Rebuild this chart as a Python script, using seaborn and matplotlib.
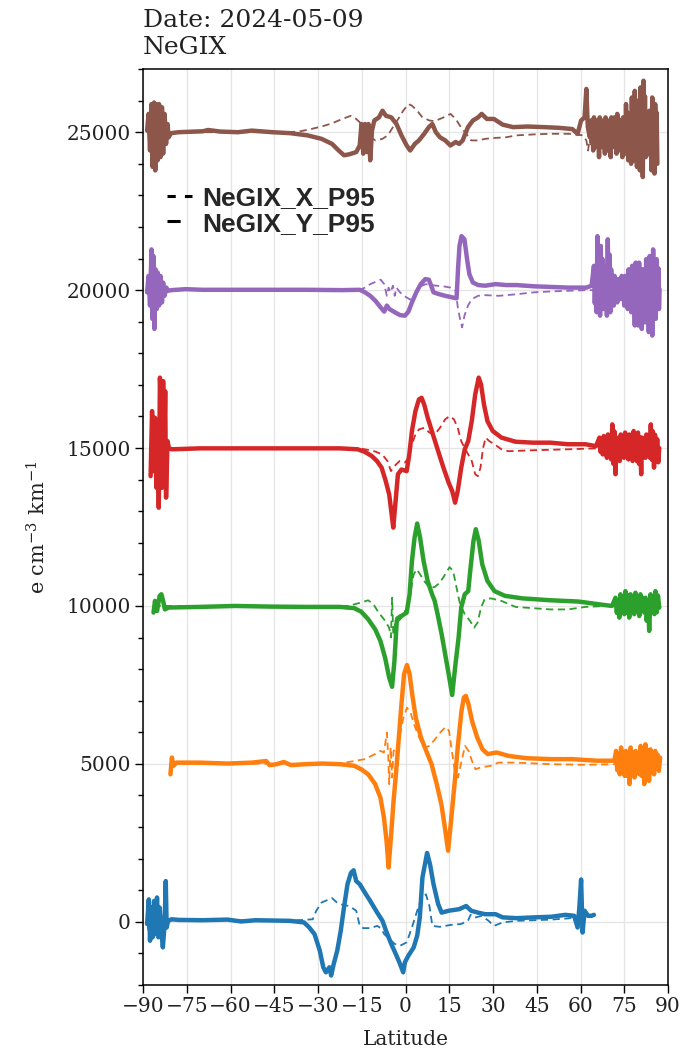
import matplotlib
matplotlib.use("Agg")
import matplotlib.pyplot as plt
from matplotlib.lines import Line2D
import numpy as np
import seaborn as sns

# ---------------- data (latitude in deg, anomaly around each band's offset) ----------------
band_names = ["blue", "orange", "green", "red", "purple", "brown"]
band_colors = ["#1f77b4", "#ff7f0e", "#2ca02c", "#d62728", "#9467bd", "#8c564b"]
band_offsets = [0, 5000, 10000, 15000, 20000, 25000]

# --- blue (offset 0)
blue_y_lat = [-88.6, -88.0, -87.6, -87.1, -86.7, -86.2, -85.7, -85.2, -84.7, -84.3, -83.8, -83.2, -82.6, -82.2, -81.9, -81.4, -80.2,
              -77.8, -69.5, -61.1, -56.3, -51.5, -45.6, -39.6, -34.8, -33.0, -31.2, -29.4, -28.2, -27.3, -26.1, -25.5, -24.6, -23.4,
              -22.2, -21.1, -19.9, -18.7, -17.8, -16.9, -15.7, -13.9, -12.1, -9.7, -7.9, -6.7, -4.9, -3.1, -1.9, -0.8, -0.2, 1.0, 2.8,
              4.0, 4.9, 5.8, 7.4, 8.4, 9.6, 11.2, 12.4, 14.8, 18.4, 20.8, 22.5, 24.9, 27.3, 30.9, 33.3, 38.1, 44.1, 50.0, 54.8, 57.8,
              59.0, 59.6, 60.2, 60.7, 61.4, 62.6, 63.8, 64.6]
blue_y_val = [-70, 710, -600, 450, -490, 660, -390, 770, -490, 450, -180, -810, -70, 1290, -180, 30, 80,
              60, 50, 70, 10, 50, 40, 30, -20, -180, -390, -910, -1440, -1600, -1440, -1700, -1330, -910,
              -280, 450, 1190, 1550, 1630, 1290, 1190, 920, 660, 290, 30, -280, -700, -1070, -1330, -1600, -1280, -1070, -810,
              -440, 140, 1400, 2180, 1820, 1190, 560, 290, 350, 400, 500, 350, 290, 240, 240, 140, 115, 140, 160, 220, 190,
              -180, 450, 1340, -340, 350, 190, 190, 220]
blue_x_lat = [-88.6, -88.2, -87.6, -87.0, -86.0, -85.0, -84.0, -82.0, -80.0, -60.0, -40.0, -31.8, -30.6, -28.8, -27.0, -25.2, -23.5,
              -21.7, -19.3, -16.9, -15.7, -14.5, -12.1, -9.7, -8.5, -7.3, -5.5, -3.7, -1.9, 0.4, 2.2, 4.0, 5.8, 7.0, 8.2, 9.2, 11.8,
              15.4, 19.0, 21.4, 22.3, 23.7, 26.1, 28.5, 30.3, 33.3, 38.1, 44.1, 50.0, 56.0, 59.6, 62.0, 64.4]
blue_x_val = [700, -300, 400, -500, 300, -200, 100, 0, 50, 50, 30, 80, 350, 610, 680, 750, 610,
              540, 500, 350, -130, -200, -200, -130, -200, -390, -550, -700, -760, -650, -180, 350, 820, 870, 500, -130, -160,
              -100, -70, 30, 220, 130, 190, 30, -130, -20, 30, 50, 70, 110, 190, 140, 190]

# --- orange (offset 5000)
orange_y_lat_main = [-80.6, -80.1, -79.6, -78.5, -70.7, -61.0, -52.6, -47.8, -46.6, -44.2, -41.7, -39.3, -34.5, -28.5, -22.4, -17.6,
                     -15.2, -12.8, -10.4, -8.6, -7.4, -6.5, -5.8, -5.0, -4.1, -3.1, -2.2, -1.3, -0.5, 0.5, 1.4, 2.3, 3.5, 5.3, 7.1,
                     8.9, 10.7, 12.3, 13.5, 14.6, 15.5, 16.8, 18.0, 19.2, 20.0, 20.7, 21.6, 22.8, 24.6, 26.4, 28.2, 31.2, 35.5,
                     41.5, 49.9, 57.2, 65.6, 71.6]
orange_y_val_main = [-330, 200, -60, 40, 40, 10, 40, 90, -40, -10, 60, -40, -10, 10, -10, -60,
                     -170, -330, -640, -1070, -1700, -2440, -3280, -2330, -1170, -120, 940, 1990, 2840, 3130, 2840, 2200, 1470, 830, 410,
                     0, -640, -1280, -2020, -2750, -1910, -640, 620, 1680, 2100, 2150, 1890, 1360, 830, 460, 310, 360, 250,
                     180, 150, 150, 100, 100]
orange_noise_lat = [72.2, 72.6, 73.05, 73.45, 73.9, 74.3, 74.7, 75.15, 75.55, 75.95,
                    76.4, 76.8, 77.2, 77.65, 78.05, 78.5, 78.9, 79.3, 79.75, 80.15,
                    80.6, 81.0, 81.4, 81.85, 82.25, 82.7, 83.1, 83.5, 83.95, 84.35,
                    84.75, 85.2, 85.6, 86.05, 86.45, 86.85, 87.3]
orange_noise_val = [410, -200, 290, -330, 520, -230, 360, -380, 410, -380,
                    290, -640, 520, -260, 360, -430, 410, -200, 290, -330,
                    570, -380, 400, -640, 620, -320, 430, -540, 460, -200,
                    320, -330, 410, -130, 290, -220, 200]
orange_y_lat = orange_y_lat_main + orange_noise_lat
orange_y_val = orange_y_val_main + orange_noise_val
orange_x_lat = [-80.6, -79.1, -60.0, -40.0, -22.4, -17.6, -14.0, -10.4, -8.6, -7.4, -6.4, -5.9, -5.6, -5.1, -4.6, -4.1, -3.1,
                -1.9, -0.7, 0.5, 1.7, 2.9, 4.7, 6.5, 8.3, 10.1, 11.9, 13.7, 14.9, 15.9, 16.8, 18.0, 19.2, 20.4, 21.6, 22.8,
                24.0, 25.8, 29.4, 31.8, 37.9, 49.9, 62.0, 71.6, 80.1, 86.7]
orange_x_val = [0, 0, 20, 0, 10, 90, 150, 310, 410, 360, 990, 200, -640, 520, -430, 410, 460,
                940, 1470, 1780, 1630, 1260, 830, 520, 570, 780, 990, 1170, 1050, 410, -170, -430, 90, 570, 410, 90,
                -170, -110, -60, 40, 40, -10, -30, -10, -10, -10]

# --- green (offset 10000)
green_y_lat_main = [-86.4, -85.9, -85.2, -84.3, -83.7, -83.1, -82.5, -81.3, -70.5, -58.5, -46.5, -34.5, -22.4, -17.6, -15.2, -12.8,
                    -10.4, -8.6, -7.0, -5.6, -4.6, -3.8, -3.0, -1.4, 0.4, 1.4, 2.2, 3.1, 4.0, 5.0, 6.2, 7.6, 9.1, 10.0, 11.0, 12.4,
                    13.6, 14.8, 16.0, 17.0, 18.2, 19.1, 20.3, 21.5, 22.3, 23.3, 24.1, 25.1, 26.3, 28.1, 30.5, 34.1, 40.1, 49.7,
                    59.3, 66.5, 70.8]
green_y_val_main = [-210, 160, -160, 320, 370, 160, -110, -50, -30, 0, -20, -30, -30, -70, -180, -420,
                    -740, -1110, -1640, -2270, -2560, -1740, -470, -320, -210, 370, 1420, 2160, 2610, 2160, 1420, 790, 370, 160, -260, -900,
                    -1530, -2160, -2820, -1950, -1000, -50, 370, 470, 1210, 2060, 2430, 2060, 1320, 790, 470, 320, 240, 180,
                    140, 50, 0]
green_noise_lat = [72.0, 72.45, 72.85, 73.3, 73.7, 74.15, 74.55, 75.0, 75.4, 75.85,
                   76.3, 76.7, 77.15, 77.55, 78.0, 78.4, 78.85, 79.3, 79.7, 80.15,
                   80.55, 81.0, 81.4, 81.85, 82.3, 82.7, 83.15, 83.55, 84.0, 84.4,
                   84.85, 85.3, 85.7, 86.15, 86.55, 87.0]
green_noise_val = [260, -220, 180, -370, 370, -160, 260, -260, 470, -220,
                   330, -370, 370, -160, 260, -260, 420, -190, 290, -320,
                   370, -130, 260, -210, 260, -470, 180, -790, 370, -160,
                   260, -260, 470, -200, 330, -50]
green_y_lat = green_y_lat_main + green_noise_lat
green_y_val = green_y_val_main + green_noise_val
green_x_lat = [-86.4, -80.0, -60.0, -40.0, -20.0, -17.6, -15.2, -12.8, -11.0, -9.2, -7.4, -5.6, -5.0, -4.6, -4.2, -3.2, -1.4,
               0.4, 1.6, 2.8, 3.8, 5.0, 6.4, 8.2, 10.0, 11.8, 13.6, 15.1, 16.3, 17.5, 18.7, 20.3, 22.1, 23.5, 24.7, 25.9,
               27.1, 29.3, 32.9, 37.7, 43.7, 49.7, 55.7, 61.7, 69.0, 76.2, 85.8]
green_x_val = [0, 0, 0, 0, 0, 50, 110, 180, 50, -210, -420, -690, -1000, 260, -900, -370, -260,
               -110, 370, 1000, 1160, 1000, 790, 580, 600, 740, 1000, 1230, 1110, 580, 50, -260, -470, -690, -530, -50,
               210, 240, 160, -30, -70, -110, -110, -30, 0, 0, 0]

# --- red (offset 15000)
red_y_lat_main = [-87.4, -86.9, -86.4, -85.9, -85.4, -84.9, -84.6, -84.2, -83.9, -83.5, -83.1, -82.8, -82.4, -82.1, -81.6, -81.1,
                  -80.1, -70.5, -58.5, -46.5, -34.5, -22.4, -16.4, -14.0, -11.6, -9.8, -8.2, -6.8, -5.6, -4.9, -4.2, -3.4, -2.6,
                  -1.4, 0.4, 1.3, 2.2, 3.4, 4.6, 5.5, 6.4, 7.6, 9.4, 11.2, 13.0, 14.8, 16.0, 17.0, 17.9, 19.1, 20.3, 21.5, 22.7,
                  23.9, 25.1, 25.9, 26.9, 28.1, 29.9, 32.9, 37.7, 43.7, 49.7, 55.7, 61.7, 65.3]
red_y_val_main = [-890, 1170, -730, 960, -1260, 640, -1890, 2230, 1490, -1260, 2120, -410, 1800, -1570, 220, -10,
                  -40, -10, -10, -10, -10, -10, -40, -120, -250, -410, -620, -1040, -1470, -1990, -2520, -1680, -830,
                  -680, -730, -200, 540, 1170, 1540, 1590, 1380, 960, 430, -100, -620, -1100, -1360, -1730, -1360, -620, -40, 220, 850,
                  1700, 2230, 2010, 1380, 850, 540, 330, 200, 170, 170, 120, 120, 60]
red_noise_lat = [66.5, 66.85, 67.2, 67.6, 67.95, 68.3, 68.7, 69.05, 69.4, 69.8,
                 70.15, 70.5, 70.9, 71.25, 71.6, 72.0, 72.35, 72.7, 73.1, 73.45,
                 73.8, 74.2, 74.55, 74.9, 75.3, 75.65, 76.0, 76.4, 76.75, 77.1,
                 77.5, 77.85, 78.2, 78.6, 78.95, 79.3, 79.7, 80.05, 80.4, 80.8,
                 81.15, 81.5, 81.9, 82.25, 82.6, 83.0, 83.35, 83.7, 84.1, 84.45,
                 84.8, 85.2, 85.55, 85.9, 86.3, 86.65, 87.0]
red_noise_val = [330, -120, 230, -200, 380, -190, 270, -310, 430, -220,
                 300, -360, 750, -500, 530, -830, 330, -250, 230, -410,
                 430, -190, 300, -310, 490, -220, 340, -360, 430, -250,
                 300, -410, 540, -250, 380, -410, 490, -500, 340, -830,
                 330, -190, 230, -310, 430, -180, 300, -300, 750, -370,
                 530, -620, 420, -310, 280, -450, 0]
red_y_lat = red_y_lat_main + red_noise_lat
red_y_val = red_y_val_main + red_noise_val
red_x_lat = [-87.4, -80.0, -60.0, -40.0, -20.0, -16.4, -12.8, -10.4, -8.0, -6.2, -5.0, -3.8, -2.0, -0.2, 1.0, 2.2, 3.4, 4.6,
             6.4, 8.2, 10.0, 11.8, 13.6, 15.1, 16.6, 17.9, 19.1, 20.3, 21.5, 22.7, 23.9, 24.8, 25.7, 26.6, 27.5, 28.7, 30.5,
             32.9, 35.3, 43.7, 55.7, 65.3, 73.8, 85.8]
red_x_val = [0, 0, 0, 0, 0, 0, -60, -110, -200, -410, -730, -570, -410, -460, -310, 120, 430, 590,
             640, 490, 430, 640, 910, 1010, 910, 640, 220, -10, -200, -410, -830, -890, -620, 10, 330, 220, 120,
             -40, -100, -70, -40, -10, -10, -10]

# --- purple (offset 20000)
purple_y_lat_main = [-88.6, -88.1, -87.6, -87.1, -86.8, -86.4, -86.1, -85.7, -85.3, -85.0, -84.5, -84.0, -83.5, -83.1, -82.6, -82.0,
                     -81.4, -80.2, -75.4, -69.5, -57.5, -45.6, -33.6, -21.7, -15.7, -13.9, -12.1, -10.3, -8.5, -7.3, -6.4, -5.5,
                     -3.7, -1.9, -0.2, 1.0, 2.2, 3.7, 5.2, 6.8, 8.0, 8.8, 9.6, 11.2, 13.6, 16.0, 17.5, 18.0, 18.5, 19.2, 20.2, 21.1,
                     21.9, 23.1, 24.9, 27.3, 30.9, 34.5, 38.1, 44.1, 50.0, 56.0, 62.0, 63.8]
purple_y_val_main = [-70, 450, -490, 1290, -910, 1080, -1230, 660, -600, 560, -490, 450, -390, 240, -180, 80,
                     -20, 0, 30, 10, 10, 10, 10, 0, 10, -70, -180, -340, -550, -680, -490, -600,
                     -700, -790, -810, -680, -390, -70, 190, 350, 330, 140, -70, -120, -180, -230, -260, 660, 1400, 1710, 1610, 980,
                     500, 240, 160, 140, 190, 160, 160, 120, 100, 80, 80, 140]
purple_noise_lat = [64.6, 64.9, 65.2, 65.5, 65.8, 66.1, 66.4, 66.7, 66.95, 67.25,
                    67.55, 67.85, 68.15, 68.45, 68.75, 69.05, 69.35, 69.6, 69.9, 70.2,
                    70.5, 70.8, 71.1, 71.4, 71.7, 72.0, 72.3, 72.6, 72.9, 73.2,
                    73.5, 73.8, 74.1, 74.4, 74.7, 75.0, 75.3, 75.6, 75.9, 76.2,
                    76.5, 76.8, 77.1, 77.4, 77.7, 78.0, 78.3, 78.6, 78.9, 79.2,
                    79.5, 79.8, 80.1, 80.4, 80.7, 81.0, 81.3, 81.6, 81.9, 82.2,
                    82.5, 82.8, 83.1, 83.4, 83.7, 84.0, 84.3, 84.6, 84.9, 85.2,
                    85.5, 85.8, 86.1, 86.4, 86.7, 86.9, 87.1]
purple_noise_val = [770, -420, 540, -700, 1710, -490, 1200, -810, 1400, -360,
                    980, -600, 770, -490, 540, -810, 1610, -420, 1130, -700,
                    660, -290, 460, -490, 450, -230, 320, -390, 350, -170,
                    250, -280, 450, -290, 320, -490, 450, -360, 320, -600,
                    660, -420, 460, -700, 770, -670, 540, -1120, 870, -670,
                    610, -1120, 870, -740, 610, -1230, 660, -610, 460, -1020,
                    980, -800, 690, -1330, 1080, -860, 760, -1440, 1290, -550,
                    900, -910, 980, -360, 690, -600, 30]
purple_y_lat = purple_y_lat_main + purple_noise_lat
purple_y_val = purple_y_val_main + purple_noise_val
purple_x_lat = [-88.6, -80.0, -60.0, -40.0, -20.0, -15.7, -13.9, -12.1, -10.3, -8.5, -7.3, -6.4, -5.8, -5.2, -4.3, -3.7, -3.1,
                -1.9, -0.2, 1.6, 2.8, 4.0, 5.6, 7.0, 8.8, 10.6, 13.0, 15.4, 17.2, 18.0, 18.7, 19.4, 20.2, 21.4, 22.8, 24.9,
                27.3, 32.1, 38.1, 44.1, 50.0, 56.0, 62.0, 73.9, 85.9]
purple_x_val = [0, 0, 0, 0, 0, 10, 80, 190, 260, 330, 190, -180, 80, -70, 140, -180, 80,
                -70, -200, -300, -230, -20, 140, 190, 160, 140, 120, 80, -20, -600, -910, -1180, -810, -490, -280, -180,
                -160, -180, -130, -70, -40, -20, 0, 0, 0]

# --- brown (offset 25000)
brown_y_lat_main = [-88.6, -88.1, -87.6, -87.1, -86.7, -86.2, -85.8, -85.5, -85.0, -84.5, -84.0, -83.5, -83.1, -82.6, -82.1, -81.6,
                    -81.2, -80.4, -77.8, -69.5, -67.7, -63.5, -57.5, -52.7, -45.6, -39.6, -33.6, -28.8, -25.2, -22.9, -21.1, -19.3,
                    -16.9, -15.7, -15.1, -14.5, -13.9, -13.3, -12.7, -12.1, -11.5, -10.7, -9.1, -7.9, -6.7, -4.9, -3.1, -1.4, 0.4,
                    1.6, 3.2, 4.6, 6.4, 8.0, 9.2, 10.4, 11.8, 13.6, 15.4, 17.2, 18.4, 19.6, 21.4, 23.1, 24.9, 26.1, 27.9, 30.3,
                    33.3, 36.9, 41.7, 47.6, 52.4, 57.2, 59.0, 60.2, 61.4, 62.0, 62.5, 63.2]
brown_y_val_main = [50, 580, -580, 890, -1100, 940, -1210, 890, -890, 890, -790, 790, -680, 580, -370, 260,
                    -160, -30, 0, 30, 70, 20, 0, 50, 0, -30, -100, -210, -370, -580, -730, -700,
                    -630, -420, 260, -680, 260, -630, 260, -890, 50, 370, 470, 680, 520, 470, 260, -100, -420,
                    -580, -370, -260, -50, 160, 260, 0, -160, -260, -420, -310, -370, -260, 160, 370, 470, 580, 420, 420,
                    240, 160, 180, 160, 140, 100, -50, 370, 470, 1370, 160, -160]
brown_noise_lat = [63.6, 63.85, 64.1, 64.35, 64.6, 64.85, 65.1, 65.35, 65.6, 65.85,
                   66.1, 66.35, 66.6, 66.85, 67.1, 67.35, 67.6, 67.85, 68.1, 68.35,
                   68.6, 68.85, 69.1, 69.35, 69.6, 69.85, 70.1, 70.35, 70.6, 70.85,
                   71.1, 71.35, 71.6, 71.85, 72.1, 72.35, 72.6, 72.85, 73.1, 73.35,
                   73.6, 73.85, 74.1, 74.35, 74.6, 74.85, 75.1, 75.35, 75.6, 75.85,
                   76.1, 76.35, 76.6, 76.85, 77.1, 77.35, 77.6, 77.85, 78.1, 78.35,
                   78.6, 78.85, 79.1, 79.35, 79.6, 79.85, 80.1, 80.35, 80.6, 80.85,
                   81.1, 81.35, 81.6, 81.85, 82.1, 82.35, 82.6, 82.85, 83.1, 83.35,
                   83.6, 83.85, 84.1, 84.35, 84.6, 84.85, 85.1, 85.35, 85.6, 85.85,
                   86.1, 86.35]
brown_noise_val = [370, -350, 260, -580, 470, -280, 330, -470, 370, -470,
                   260, -790, 470, -280, 330, -470, 370, -410, 260, -680,
                   470, -350, 330, -580, 370, -470, 260, -790, 470, -280,
                   330, -470, 470, -410, 330, -680, 580, -350, 410, -580,
                   370, -470, 260, -790, 470, -410, 330, -680, 890, -530,
                   620, -890, 580, -600, 410, -1000, 1100, -530, 770, -890,
                   1310, -660, 920, -1100, 1000, -730, 700, -1210, 1420, -850,
                   990, -1420, 1630, -470, 1140, -790, 370, -350, 260, -580,
                   680, -730, 480, -1210, 1100, -790, 770, -1310, 890, -600,
                   620, -1000]
brown_y_lat = brown_y_lat_main + brown_noise_lat
brown_y_val = brown_y_val_main + brown_noise_val
brown_x_lat = [-88.6, -80.0, -60.0, -39.6, -36.0, -32.4, -28.8, -25.2, -21.7, -18.7, -16.9, -15.1, -13.9, -12.1, -10.3, -7.9,
               -6.1, -4.3, -2.5, -0.8, 1.0, 2.2, 4.0, 5.8, 8.2, 10.0, 11.8, 13.6, 15.4, 17.2, 19.0, 20.8, 22.5, 24.9, 27.3,
               30.9, 34.5, 38.1, 44.1, 50.0, 56.0, 60.8, 62.0, 62.6, 63.2, 64.4, 73.9, 85.9]
brown_x_val = [0, 0, 0, 0, 30, 100, 180, 280, 420, 520, 420, 260, 100, -160, -260, -210,
               -100, 160, 420, 680, 890, 840, 680, 470, 370, 350, 420, 490, 580, 420, 160, -50, -260, -260, -210,
               -180, -160, -100, -70, -50, -50, -100, -260, -580, -160, -50, -50, 0]

band_x = [(blue_x_lat, blue_x_val), (orange_x_lat, orange_x_val), (green_x_lat, green_x_val),
          (red_x_lat, red_x_val), (purple_x_lat, purple_x_val), (brown_x_lat, brown_x_val)]
band_y = [(blue_y_lat, blue_y_val), (orange_y_lat, orange_y_val), (green_y_lat, green_y_val),
          (red_y_lat, red_y_val), (purple_y_lat, purple_y_val), (brown_y_lat, brown_y_val)]

legend_labels = ["NeGIX_X_P95", "NeGIX_Y_P95"]
x_ticks = list(range(-90, 91, 15))
y_ticks = [0, 5000, 10000, 15000, 20000, 25000]

# ---------------- style ----------------
sns.set_style("ticks")
plt.rcParams["font.family"] = ["DejaVu Serif"]
plt.rcParams["mathtext.fontset"] = "dejavuserif"

fig = plt.figure(figsize=(6.82, 10.54), dpi=100)
ax = fig.add_axes([0.2097, 0.0655, 0.7698, 0.869])

for (xl, xv), (yl, yv), c, off in zip(band_x, band_y, band_colors, band_offsets):
    sns.lineplot(x=np.array(xl), y=np.array(xv) + off, ax=ax, color=c, linewidth=1.3,
                 linestyle=(0, (4, 2.5)), estimator=None, sort=False, legend=False)
    sns.lineplot(x=np.array(yl), y=np.array(yv) + off, ax=ax, color=c, linewidth=3.2,
                 linestyle="-", estimator=None, sort=False, legend=False)

ax.set_xlim(-90, 90)
ax.set_ylim(-2000, 27000)
ax.set_xticks(x_ticks)
ax.set_xticklabels([("\u2212" if t < 0 else "") + str(abs(t)) for t in x_ticks])
ax.set_yticks(y_ticks)
ax.yaxis.set_minor_locator(matplotlib.ticker.MultipleLocator(1000))
ax.grid(True, which="major", color="#e6e6e6", linewidth=1.0, zorder=0)
ax.set_axisbelow(True)
ax.tick_params(axis="both", which="major", direction="out", length=5.5, width=1.0,
               labelsize=14.5, color="black", labelcolor="#222222")
ax.tick_params(axis="y", which="minor", direction="out", length=3.5, width=1.0, color="black")
for s in ax.spines.values():
    s.set_visible(True)
    s.set_color("black")
    s.set_linewidth(1.1)

ax.set_xlabel("Latitude", fontsize=14.5, color="#222222", labelpad=10)
ax.set_ylabel(r"e cm$^{-3}$ km$^{-1}$", fontsize=15, color="#222222", labelpad=12)
ax.set_title("Date: 2024-05-09\nNeGIX", loc="left", fontsize=18, pad=11, color="#222222")

handles = [Line2D([0], [0], color="black", lw=2.2, linestyle=(0, (2.7, 3.0))),
           Line2D([0], [0], color="black", lw=2.2, linestyle=(0, (4.3, 30)))]
leg = ax.legend(handles, legend_labels, loc="upper left", bbox_to_anchor=(0.0, 0.898),
                frameon=False, handlelength=0.95, handletextpad=0.4, labelspacing=0.05,
                prop={"family": "Liberation Sans", "weight": "bold", "size": 19})

fig.savefig("out.png", dpi=100)
